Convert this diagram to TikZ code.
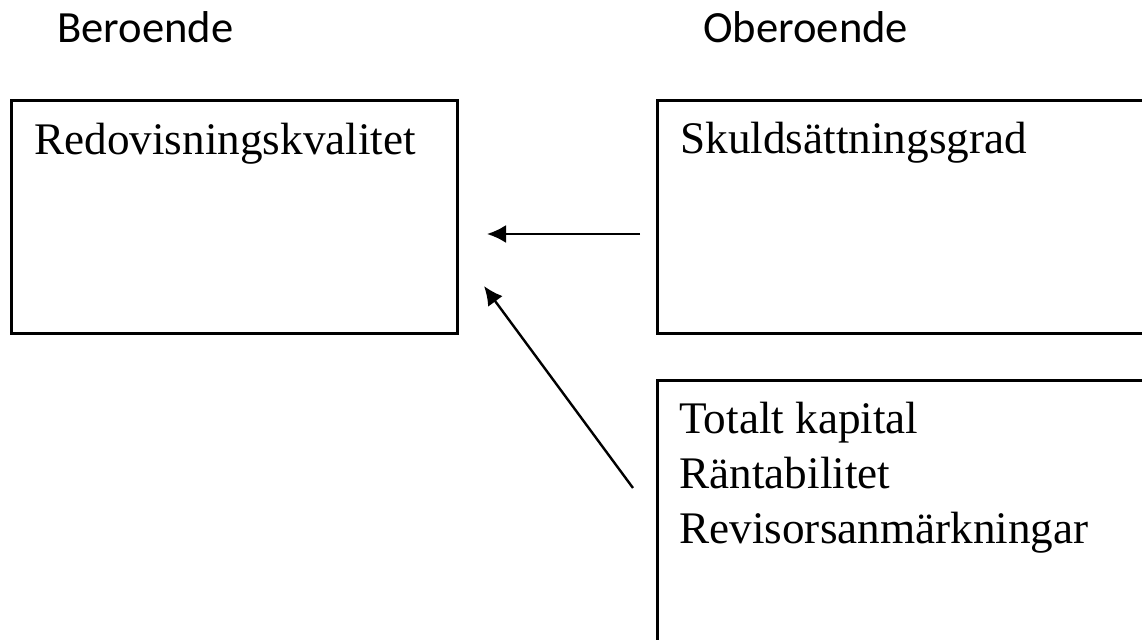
\documentclass[tikz,border=0pt]{standalone}
\usepackage{fontspec}
\setmainfont{Liberation Serif}
\newfontfamily\headfont{Carlito}
\usetikzlibrary{arrows.meta}

\begin{document}
\begin{tikzpicture}[x=0.5pt,y=-0.5pt]
\tikzstyle{boks}=[rectangle,draw,line width=1.3pt,anchor=north west,inner sep=0pt]
\tikzstyle{rubrik}=[anchor=base west,inner sep=0pt,font=\headfont\fontsize{22.3}{26}\selectfont]
\tikzstyle{falt}=[anchor=base west,inner sep=0pt,font=\fontsize{22.6}{27.5}\selectfont]
\tikzstyle{pil}=[-{Latex[length=9.5pt,width=9pt]},line width=1.2pt]
\useasboundingbox (0,0) rectangle (1142,640);
\node [rubrik] (beroende) at (57,43) {Beroende};
\node [rubrik] (oberoende) at (703,43) {Oberoende};
\node [boks,minimum width=223pt,minimum height=116.5pt] (redov) at (10,99) {};
\node [boks,minimum width=247pt,minimum height=116.5pt] (skuld) at (656,99) {};
\node [boks,minimum width=247pt,minimum height=135.5pt] (ovriga) at (656,379) {};
\node [falt] (redovtext) at (34,155) {Redovisningskvalitet};
\node [falt] (skuldtext) at (680,154) {Skuldsättningsgrad};
\node [falt] (kapital) at (679,434) {Totalt kapital};
\node [falt] (ranta) at (679,489) {Räntabilitet};
\node [falt] (revisor) at (679,544) {Revisorsanmärkningar};
\coordinate (skuldut) at (640,234);
\coordinate (redovin1) at (487,234);
\coordinate (ovrigaut) at (633,488);
\coordinate (redovin2) at (484,286);
\draw [pil] (skuldut) -- (redovin1);
\draw [pil] (ovrigaut) -- (redovin2);
\end{tikzpicture}
\end{document}
